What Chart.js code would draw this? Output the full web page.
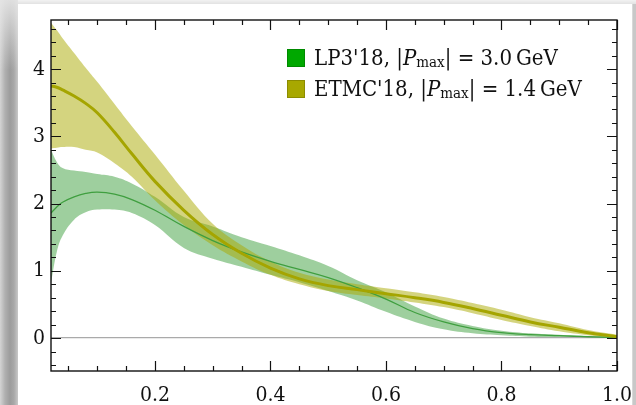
<!DOCTYPE html>
<html>
<head>
<meta charset="utf-8">
<script src="https://cdn.jsdelivr.net/npm/chart.js@4/dist/chart.umd.min.js"></script>
<style>
  html, body { margin: 0; padding: 0; }
  body { width: 636px; height: 405px; position: relative; overflow: hidden;
         background: linear-gradient(to right, #d4d4d4 0px, #b0b0b0 5px, #9c9c9c 10px, #a8a8a8 14px, #c8c8c8 18px); }
  #topfade { position: absolute; left: 0; top: 0; width: 18px; height: 70px;
             background: linear-gradient(to bottom, rgba(230,230,230,0.9), rgba(230,230,230,0)); }
  #panel { position: absolute; left: 18px; top: 4px; width: 614px; height: 401px; background: #fff;
           border-right: 1px solid #d8d8d8; }
  #topstrip { position: absolute; left: 18px; top: 0; width: 618px; height: 4px;
              background: linear-gradient(to bottom, #f2f2f2, #e2e2e2); }
  canvas { position: absolute; left: 0; top: 0; }
  #legend { position: absolute; left: 287px; top: 42px; font-family: "DejaVu Serif Condensed", "DejaVu Serif", serif;
            font-size: 22px; color: #111; }
  #legend .row { display: flex; align-items: center; height: 31px; white-space: nowrap; }
  #legend .sw { width: 18px; height: 18px; margin-right: 9px; box-sizing: border-box; flex: none; }
  #legend i { font-style: italic; }
  #legend .sub { font-size: 15px; position: relative; top: 4px; }
</style>
</head>
<body>
<div id="topfade"></div>
<div id="topstrip"></div>
<div id="panel"></div>
<canvas id="chart" width="636" height="405"></canvas>
<div id="legend">
  <div class="row"><span class="sw" style="background:#00a800;border:1px solid #008a00"></span>LP3'18, |<i>P</i><span class="sub">max</span>| = 3.0&thinsp;GeV</div>
  <div class="row"><span class="sw" style="background:#a8a800;border:1px solid #8c8c00"></span>ETMC'18, |<i>P</i><span class="sub">max</span>| = 1.4&thinsp;GeV</div>
</div>
<script>
// x grid shared by both bands
const xs = [0.02, 0.03, 0.04, 0.06, 0.08, 0.10, 0.13, 0.16, 0.20, 0.25, 0.30, 0.35, 0.40,
            0.45, 0.50, 0.55, 0.60, 0.65, 0.70, 0.75, 0.80, 0.85, 0.90, 0.95, 1.00];

// LP3'18, |Pmax| = 3.0 GeV
const lpCentral = [1.86, 1.95, 2.02, 2.10, 2.15, 2.17, 2.14, 2.06, 1.90, 1.66, 1.45, 1.28, 1.14,
                   1.02, 0.90, 0.75, 0.58, 0.38, 0.24, 0.14, 0.08, 0.05, 0.035, 0.02, 0.01];
const lpUpper   = [2.80, 2.62, 2.53, 2.49, 2.47, 2.44, 2.40, 2.30, 2.10, 1.80, 1.66, 1.50, 1.37,
                   1.23, 1.07, 0.86, 0.68, 0.47, 0.29, 0.18, 0.11, 0.07, 0.05, 0.03, 0.02];
const lpLower   = [0.82, 1.28, 1.52, 1.76, 1.87, 1.91, 1.91, 1.86, 1.68, 1.34, 1.18, 1.06, 0.94,
                   0.83, 0.70, 0.56, 0.39, 0.24, 0.13, 0.07, 0.04, 0.02, 0.015, 0.01, 0.0];

// ETMC'18, |Pmax| = 1.4 GeV
const etmcCentral = [3.75, 3.73, 3.69, 3.60, 3.49, 3.35, 3.06, 2.74, 2.33, 1.90, 1.54, 1.26, 1.04,
                     0.88, 0.78, 0.72, 0.66, 0.60, 0.53, 0.44, 0.34, 0.24, 0.16, 0.08, 0.02];
const etmcUpper   = [4.69, 4.58, 4.46, 4.24, 4.02, 3.81, 3.48, 3.15, 2.73, 2.19, 1.70, 1.38, 1.14,
                     0.97, 0.87, 0.80, 0.74, 0.68, 0.61, 0.52, 0.42, 0.31, 0.22, 0.12, 0.05];
const etmcLower   = [2.82, 2.83, 2.84, 2.84, 2.80, 2.76, 2.60, 2.40, 2.05, 1.68, 1.38, 1.14, 0.94,
                     0.80, 0.70, 0.64, 0.59, 0.53, 0.46, 0.37, 0.27, 0.18, 0.10, 0.04, -0.01];

const xTicks = [0.2, 0.4, 0.6, 0.8, 1.0];
const yTicks = [0, 1, 2, 3, 4];
const xMinorStep = 0.05;
const yMinorStep = 0.2;

const pts = ys => xs.map((x, i) => ({ x, y: ys[i] }));

const tickFont = { family: "'DejaVu Serif Condensed', 'DejaVu Serif'", size: 21 };

// frame with inward ticks on all four sides
const framePlugin = {
  id: 'frame',
  afterDatasetsDraw(chart) {
    const { ctx, chartArea: a, scales: { x, y } } = chart;
    ctx.save();
    ctx.strokeStyle = '#111';
    ctx.lineWidth = 1.2;
    const minorX = [], minorY = [];
    for (let v = Math.ceil(x.min / xMinorStep) * xMinorStep; v <= x.max + 1e-9; v += xMinorStep) minorX.push(v);
    for (let v = Math.ceil(y.min / yMinorStep) * yMinorStep; v <= y.max + 1e-9; v += yMinorStep) minorY.push(v);
    ctx.beginPath();
    minorX.forEach(v => {
      const len = xTicks.some(t => Math.abs(t - v) < 1e-6) ? 10 : 5;
      const px = Math.round(x.getPixelForValue(v)) + 0.5;
      ctx.moveTo(px, a.bottom); ctx.lineTo(px, a.bottom - len);
      ctx.moveTo(px, a.top); ctx.lineTo(px, a.top + len);
    });
    minorY.forEach(v => {
      const len = yTicks.some(t => Math.abs(t - v) < 1e-6) ? 10 : 5;
      const py = Math.round(y.getPixelForValue(v)) + 0.5;
      ctx.moveTo(a.left, py); ctx.lineTo(a.left + len, py);
      ctx.moveTo(a.right, py); ctx.lineTo(a.right - len, py);
    });
    ctx.stroke();
    ctx.lineWidth = 1.4;
    ctx.strokeRect(a.left, a.top, a.right - a.left, a.bottom - a.top);
    ctx.restore();
  }
};

const band = (upper, lower, color, order) => ([
  { data: pts(upper), borderWidth: 0, pointRadius: 0, fill: '+1', backgroundColor: color,
    tension: 0.4, order },
  { data: pts(lower), borderWidth: 0, pointRadius: 0, fill: false, tension: 0.4, order }
]);

new Chart(document.getElementById('chart'), {
  type: 'line',
  data: {
    datasets: [
      ...band(lpUpper, lpLower, 'rgba(0,128,0,0.38)', 4),
      ...band(etmcUpper, etmcLower, 'rgba(170,170,0,0.5)', 3),
      { data: pts(lpCentral), borderColor: '#3f9f3f', borderWidth: 1.3, pointRadius: 0, fill: false,
        tension: 0.4, order: 2 },
      { data: pts(etmcCentral), borderColor: '#a5a500', borderWidth: 3, pointRadius: 0, fill: false,
        tension: 0.4, order: 1 }
    ]
  },
  options: {
    responsive: false,
    animation: false,
    devicePixelRatio: 1,
    layout: { padding: { left: 0, top: 20, right: 17, bottom: 0 } },
    plugins: { legend: { display: false }, tooltip: { enabled: false } },
    scales: {
      x: {
        type: 'linear', min: 0.02, max: 1.0,
        afterBuildTicks: s => { s.ticks = xTicks.map(v => ({ value: v })); },
        afterFit: s => { s.height = 34; },
        grid: { display: false },
        border: { display: false },
        ticks: { font: tickFont, color: '#111', padding: 4, maxRotation: 0, autoSkip: false,
                 callback: v => v.toFixed(1) }
      },
      y: {
        type: 'linear', min: -0.49, max: 4.73,
        afterBuildTicks: s => { s.ticks = yTicks.map(v => ({ value: v })); },
        afterFit: s => { s.width = 51; },
        grid: { drawTicks: false, lineWidth: 1.2,
                color: c => (c.tick && c.tick.value === 0) ? '#aaaaaa' : 'rgba(0,0,0,0)' },
        border: { display: false },
        ticks: { font: tickFont, color: '#111', padding: 6, callback: v => String(v) }
      }
    }
  },
  plugins: [framePlugin]
});
</script>
</body>
</html>
